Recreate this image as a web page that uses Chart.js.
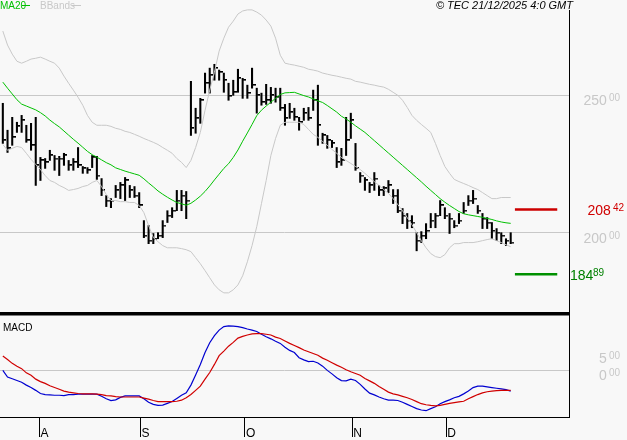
<!DOCTYPE html>
<html><head><meta charset="utf-8">
<script src="https://cdn.jsdelivr.net/npm/chart.js@4"></script>
<style>
html,body{margin:0;padding:0;background:#f8f8f8;}
#wrap{position:relative;width:627px;height:440px;overflow:hidden;}
canvas{position:absolute;left:0;}
</style></head><body>
<div id="wrap"><canvas id="c1" style="top:0"></canvas><canvas id="c2" style="top:314px"></canvas></div>
<script>
const highs=[247.1,237.3,242.0,240.2,242.7,239.1,239.8,242.0,227.4,227.0,230.0,228.1,227.8,228.9,226.3,227.0,231.0,224.1,223.7,228.1,227.8,219.7,213.5,212.4,217.2,218.3,220.1,217.2,216.8,214.6,204.4,202.6,199.7,200.0,204.4,208.0,209.1,215.4,215.4,215.0,255.1,245.3,248.9,258.1,259.9,261.3,259.2,258.1,254.4,255.5,259.5,256.2,253.7,259.9,252.6,250.8,254.0,252.9,252.6,252.6,246.7,247.1,245.3,242.0,245.3,245.6,251.9,253.7,236.2,235.4,233.6,231.0,230.7,242.0,243.5,232.5,221.9,220.1,218.3,221.9,217.2,216.8,219.0,215.7,215.7,208.8,207.0,206.2,200.0,200.4,203.3,207.0,207.0,211.7,209.1,207.0,204.4,207.0,211.0,213.5,215.4,209.9,207.0,205.5,203.7,201.5,200.0,197.8,200.0];
const lows=[232.5,229.2,231.8,236.5,236.5,232.9,230.0,217.2,219.0,223.4,226.3,222.7,220.8,224.5,222.7,222.7,223.7,221.6,221.6,223.7,219.4,213.5,209.5,209.1,212.8,212.4,211.7,212.8,212.8,209.1,198.2,196.0,196.0,197.8,198.2,203.7,205.5,208.0,208.0,205.1,235.4,236.2,239.8,250.8,250.8,255.5,255.5,251.1,248.2,250.0,251.1,248.9,248.9,252.6,243.5,246.4,246.7,247.1,247.5,244.5,239.1,241.6,240.9,237.3,240.9,240.9,244.5,231.8,232.5,230.7,231.0,223.7,224.5,228.1,234.3,222.7,218.3,215.4,214.6,215.4,213.5,213.5,214.6,210.6,207.3,203.3,201.5,201.8,193.4,196.4,197.8,201.8,201.8,206.2,205.1,199.7,201.8,203.3,207.0,209.9,210.6,207.0,201.5,201.5,197.8,197.1,196.0,195.3,196.0];
const closes=[233.6,230.7,234.7,238.7,240.9,233.6,231.8,224.5,226.3,225.6,228.1,227.0,227.0,228.1,224.5,225.6,224.5,223.4,222.7,227.4,220.8,215.4,211.7,211.7,215.4,217.2,219.0,215.4,213.5,209.9,198.9,197.1,197.8,198.9,202.6,206.2,208.0,211.7,213.5,211.7,238.0,241.6,248.2,254.4,257.3,259.9,258.4,255.5,249.7,251.1,256.2,255.5,250.8,253.7,250.0,247.5,248.2,250.0,249.3,245.3,241.6,243.8,242.0,240.2,243.5,241.6,248.2,239.1,235.4,233.6,232.5,225.6,226.3,233.6,240.9,223.4,220.8,219.0,217.2,219.7,215.4,216.1,217.2,213.5,208.0,206.2,204.4,203.7,197.1,198.9,200.7,204.4,206.2,209.9,206.2,205.1,202.6,204.4,208.0,211.7,212.4,208.0,205.1,203.7,200.7,200.0,198.9,197.1,196.4];
const ma20=[254.8,252.6,250.5,248.4,246.8,246.1,245.4,244.7,243.7,242.5,241.0,239.7,238.5,237.0,235.5,234.0,232.6,231.1,229.6,228.4,227.5,226.5,225.5,224.7,223.6,223.0,222.4,221.9,221.4,220.9,219.6,218.1,216.7,215.2,214.0,212.9,211.9,211.0,210.5,210.0,210.7,211.9,213.3,215.0,217.0,219.2,221.3,223.4,225.1,227.4,230.1,233.3,236.3,239.4,242.6,244.6,246.1,247.5,248.9,250.3,250.9,251.0,251.1,250.5,249.9,249.4,248.7,248.0,247.4,246.3,245.1,243.9,242.4,241.4,240.2,238.9,237.7,236.5,235.0,233.5,232.0,230.5,229.0,227.5,226.0,224.5,223.0,221.5,220.0,218.5,216.9,215.4,213.9,212.4,211.1,209.9,208.8,207.7,206.9,206.5,206.2,205.9,205.6,205.2,204.8,204.3,203.9,203.6,203.4];
const bbUpper=[273.4,268.3,265.0,262.4,261.7,262.4,263.2,263.5,263.9,263.2,262.4,261.7,259.9,257.0,254.4,251.9,249.3,246.4,242.7,240.2,239.1,239.1,239.1,238.7,238.0,237.6,236.9,236.5,235.8,235.1,234.3,233.6,232.9,232.1,231.0,230.0,228.9,227.0,225.6,223.7,226.3,231.0,236.5,244.5,251.9,258.4,266.1,270.8,274.8,277.0,279.6,280.7,281.1,281.1,280.3,279.2,277.4,275.2,270.8,264.6,261.7,261.3,261.0,260.6,260.2,259.5,259.2,258.8,258.1,257.7,257.3,257.0,256.6,256.2,255.9,255.1,254.8,254.4,254.0,253.7,253.3,253.0,252.2,251.1,250.0,248.2,245.6,242.7,240.9,239.4,238.0,236.5,232.5,228.1,224.1,221.6,219.4,218.6,217.9,217.2,216.4,215.7,214.6,213.5,212.4,212.4,212.8,212.8,212.8];
const bbLower=[232.1,230.0,230.7,231.4,231.0,228.9,226.7,224.8,223.0,220.8,219.0,218.3,217.2,216.4,215.4,215.7,216.1,216.8,217.2,218.3,219.0,216.8,213.9,211.7,211.7,211.3,211.3,211.0,211.0,209.9,207.3,202.6,198.2,196.7,195.3,194.5,194.5,194.5,194.2,193.8,193.1,190.9,188.7,186.2,183.6,181.0,179.2,178.1,178.1,179.2,181.0,184.3,189.4,195.3,202.2,210.6,219.0,228.1,234.3,239.1,240.2,240.2,240.2,240.2,239.4,237.6,235.8,234.7,233.2,231.8,230.3,228.9,227.4,226.3,225.2,224.1,223.0,221.6,220.1,218.6,217.2,215.7,214.3,212.4,210.2,208.0,205.5,202.9,200.0,197.1,194.5,192.4,191.3,190.9,192.0,194.5,196.0,196.0,196.4,196.4,196.4,196.7,197.1,197.5,197.8,197.1,196.4,195.6,194.9];
const macd=[-0.1,-2.0,-2.5,-3.0,-3.5,-4.3,-5.0,-5.8,-6.7,-7.0,-7.1,-7.2,-7.2,-7.3,-7.0,-7.0,-6.9,-6.9,-6.9,-6.9,-6.9,-7.5,-8.2,-8.7,-8.5,-7.8,-7.4,-7.4,-7.4,-7.4,-8.2,-9.2,-9.8,-10.1,-10.0,-9.5,-9.0,-8.1,-7.2,-6.5,-4.3,-1.4,1.6,5.0,7.8,9.8,11.4,12.4,12.6,12.5,12.4,12.1,11.7,11.4,11.0,10.2,9.5,8.9,8.2,7.6,6.5,5.6,5.0,3.5,2.9,2.4,2.5,2.0,1.1,-0.1,-1.1,-2.2,-3.0,-3.1,-2.6,-3.0,-4.1,-5.4,-6.6,-7.1,-7.7,-8.2,-8.6,-8.6,-8.7,-9.2,-9.8,-10.4,-11.0,-11.4,-11.6,-11.0,-10.5,-9.6,-9.0,-8.5,-7.9,-7.5,-6.8,-6.0,-5.0,-4.6,-4.6,-4.8,-5.0,-5.2,-5.4,-5.6,-6.0];
const signal=[4.0,3.0,1.9,1.1,0.4,-0.8,-1.5,-2.6,-3.3,-3.8,-4.5,-5.0,-5.5,-6.0,-6.3,-6.5,-6.7,-6.8,-6.8,-6.8,-6.9,-7.0,-7.3,-7.4,-7.6,-7.7,-7.7,-7.7,-7.7,-7.7,-8.0,-8.3,-8.7,-9.0,-9.0,-9.0,-9.0,-8.9,-8.6,-7.9,-7.0,-5.8,-4.6,-2.6,-0.7,1.6,4.1,5.4,6.8,7.9,9.1,9.6,10.0,10.3,10.4,10.4,10.2,10.0,9.4,9.0,8.3,7.6,7.0,6.4,5.7,5.2,4.7,4.2,3.4,2.8,2.1,1.4,0.8,0.1,-0.5,-1.0,-1.5,-2.4,-3.1,-3.8,-4.7,-5.5,-6.3,-6.8,-7.1,-7.5,-7.9,-8.4,-9.0,-9.6,-9.9,-10.1,-10.2,-10.1,-9.8,-9.5,-9.3,-9.1,-8.9,-8.2,-7.6,-7.0,-6.5,-6.2,-6.0,-5.9,-5.8,-5.8,-5.8];
const priceTicks=[200,250];
const macdTicks=[0,5];
const resistance=208.42, support=184.89;
const monthTicks=[7.8,29.3,51.5,74.3,94.3];
const monthLabels=['A','S','O','N','D'];

const FONT='"Liberation Sans", Arial, sans-serif';
const X_MIN=-0.6, X_MAX=120.4;
const pts=a=>a.map((v,i)=>({x:i,y:v}));

function tickLabel(ctx,v,y,color,rightX){
  const [a,b]=v.toFixed(2).split('.');
  ctx.fillStyle=color;ctx.textBaseline='alphabetic';ctx.textAlign='left';
  ctx.font='10px '+FONT;const wb=ctx.measureText(b).width;
  ctx.font='14px '+FONT;const wa=ctx.measureText(a).width;
  const x0=rightX-wb-wa-2;
  ctx.fillText(a,x0,y);
  ctx.font='10px '+FONT;ctx.fillText(b,x0+wa+2,y-4);
}

const tick=document.createElement('canvas');tick.width=7;tick.height=2;
{const t=tick.getContext('2d');t.fillStyle='#000';t.fillRect(4,0,3,1.5);}

const mainDeco={id:'mainDeco',afterDraw(c){
  const ctx=c.ctx,y=c.scales.y;ctx.save();
  priceTicks.forEach(v=>tickLabel(ctx,v,y.getPixelForValue(v)+10,'#c8c8c8',620));
  tickLabel(ctx,resistance,y.getPixelForValue(resistance)+5,'#d00000',624);
  ctx.fillStyle='#008000';ctx.font='14px '+FONT;ctx.textAlign='left';
  const sy=y.getPixelForValue(support)+6;ctx.fillText('184',570,sy);
  ctx.font='10px '+FONT;ctx.fillText('89',593,sy-4);
  ctx.font='10px '+FONT;ctx.fillStyle='#00c000';ctx.fillText('MA20',0,9);
  ctx.fillRect(22,5,8,1);
  ctx.fillStyle='#c8c8c8';ctx.fillText('BBands',40,9);ctx.fillRect(72,5,9,1);
  ctx.fillStyle='#000';ctx.font='italic 11px '+FONT;ctx.textAlign='right';
  ctx.fillText('© TEC 21/12/2025 4:0 GMT',573,9);
  ctx.fillRect(569,10,1,304);ctx.fillRect(0,312,570,2);
  ctx.restore();}};
const macdDeco={id:'macdDeco',afterDraw(c){
  const ctx=c.ctx,y=c.scales.y,x=c.scales.x;ctx.save();
  macdTicks.forEach(v=>tickLabel(ctx,v,y.getPixelForValue(v)+10,'#c8c8c8',620));
  ctx.fillStyle='#000';ctx.font='10px '+FONT;ctx.textAlign='left';ctx.fillText('MACD',3,17);
  ctx.font='12px '+FONT;
  monthTicks.forEach((m,i)=>ctx.fillText(monthLabels[i],x.getPixelForValue(m)+1,123));
  ctx.fillRect(0,0,570,1.5);ctx.fillRect(569,0,1,104);ctx.fillRect(0,103,570,1);
  ctx.restore();}};

const c1=document.getElementById('c1');c1.width=627;c1.height=314;
const c2=document.getElementById('c2');c2.width=627;c2.height=126;
Chart.defaults.font.family=FONT;

new Chart(c1,{type:'bar',
 data:{datasets:[
  {type:'line',data:pts(bbUpper),borderColor:'#c8c8c8',borderWidth:1,pointRadius:0,tension:0},
  {type:'line',data:pts(bbLower),borderColor:'#c8c8c8',borderWidth:1,pointRadius:0,tension:0},
  {type:'line',data:pts(ma20),borderColor:'#00c000',borderWidth:1,pointRadius:0,tension:0},
  {type:'bar',data:highs.map((h,i)=>({x:i,y:[lows[i],h]})),backgroundColor:'#000',barThickness:1.4,grouped:false},
  {type:'scatter',data:pts(closes),pointStyle:tick,pointRadius:3},
  {type:'line',data:[{x:108.9,y:resistance},{x:117.9,y:resistance}],borderColor:'#cc0000',borderWidth:2.5,pointRadius:0},
  {type:'line',data:[{x:108.9,y:support},{x:117.9,y:support}],borderColor:'#009000',borderWidth:2.5,pointRadius:0}
 ]},
 options:{responsive:false,animation:false,events:[],layout:{padding:0,autoPadding:false},
  plugins:{legend:{display:false},tooltip:{enabled:false}},
  scales:{
   x:{type:'linear',min:X_MIN,max:X_MAX,display:false,offset:false},
   y:{position:'right',min:170.4,max:284.7,afterBuildTicks:s=>{s.ticks=priceTicks.map(v=>({value:v}))},
      afterFit:s=>{s.width=58},ticks:{display:false},border:{display:false},
      grid:{color:'#c8c8c8',drawTicks:false}}
  }},plugins:[mainDeco]});

new Chart(c2,{type:'line',
 data:{datasets:[
  {data:pts(signal),borderColor:'#d00000',borderWidth:1.2,pointRadius:0,tension:0},
  {data:pts(macd),borderColor:'#0000d0',borderWidth:1.2,pointRadius:0,tension:0}
 ]},
 options:{responsive:false,animation:false,events:[],layout:{padding:{top:1},autoPadding:false},
  plugins:{legend:{display:false},tooltip:{enabled:false}},
  scales:{
   x:{type:'linear',min:X_MIN,max:X_MAX,afterBuildTicks:s=>{s.ticks=monthTicks.map(v=>({value:v}))},
      afterFit:s=>{s.height=23},border:{display:false},
      grid:{drawOnChartArea:false,drawTicks:true,tickLength:20,color:'#000',tickWidth:1},
      ticks:{display:false}},
   y:{position:'right',min:-13.4,max:15.7,afterBuildTicks:s=>{s.ticks=[{value:0}]},
      afterFit:s=>{s.width=58},ticks:{display:false},border:{display:false},
      grid:{color:'#c8c8c8',drawTicks:false}}
  }},plugins:[macdDeco]});
</script></body></html>
